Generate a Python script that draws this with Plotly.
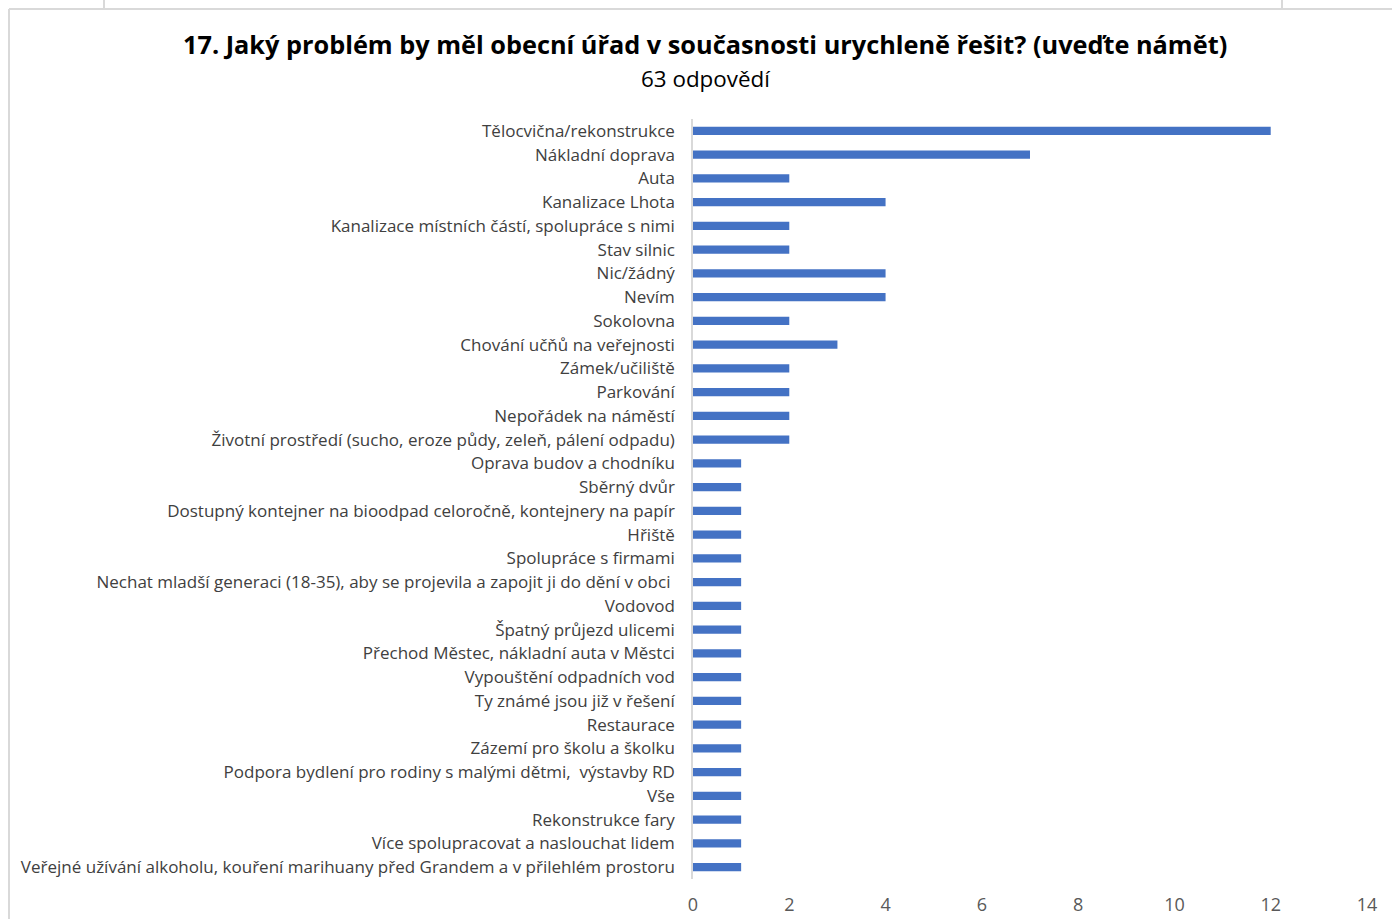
import plotly.graph_objects as go

W, H = 1392, 919

categories = [
    "Tělocvična/rekonstrukce",
    "Nákladní doprava",
    "Auta",
    "Kanalizace Lhota",
    "Kanalizace místních částí, spolupráce s nimi",
    "Stav silnic",
    "Nic/žádný",
    "Nevím",
    "Sokolovna",
    "Chování učňů na veřejnosti",
    "Zámek/učiliště",
    "Parkování",
    "Nepořádek na náměstí",
    "Životní prostředí (sucho, eroze půdy, zeleň, pálení odpadu)",
    "Oprava budov a chodníku",
    "Sběrný dvůr",
    "Dostupný kontejner na bioodpad celoročně, kontejnery na papír",
    "Hřiště",
    "Spolupráce s firmami",
    "Nechat mladší generaci (18-35), aby se projevila a zapojit ji do dění v obci ",
    "Vodovod",
    "Špatný průjezd ulicemi",
    "Přechod Městec, nákladní auta v Městci",
    "Vypouštění odpadních vod",
    "Ty známé jsou již v řešení",
    "Restaurace",
    "Zázemí pro školu a školku",
    "Podpora bydlení pro rodiny s malými dětmi,  výstavby RD",
    "Vše",
    "Rekonstrukce fary",
    "Více spolupracovat a naslouchat lidem",
    "Veřejné užívání alkoholu, kouření marihuany před Grandem a v přilehlém prostoru",
]
counts = [12, 7, 2, 4, 2, 2, 4, 4, 2, 3, 2, 2, 2, 2,
          1, 1, 1, 1, 1, 1, 1, 1, 1, 1, 1, 1, 1, 1, 1, 1, 1, 1]
x_ticks = [0, 2, 4, 6, 8, 10, 12, 14]

title = "17. Jaký problém by měl obecní úřad v současnosti urychleně řešit? (uveďte námět)"
subtitle = "63 odpovědí"

FONT = "Open Sans"
TICKFONT = "Liberation Sans Narrow, Open Sans"

fig = go.Figure()
fig.add_trace(go.Bar(
    x=counts, y=categories, orientation="h",
    marker=dict(color="#4472C4", line=dict(width=0)),
    width=0.34,
    hoverinfo="x+y",
))

# pixel helpers (margins are zero, so paper == canvas)
def px(x):
    return x / W

def py(y):
    return 1 - y / H

fig.update_layout(
    width=W, height=H,
    margin=dict(l=0, r=0, t=0, b=0),
    paper_bgcolor="white", plot_bgcolor="white",
    showlegend=False,
    font=dict(family=FONT, color="#404040"),
    xaxis=dict(
        domain=[px(693), px(1367)],
        range=[0, 14], tickvals=x_ticks,
        showgrid=False, zeroline=False, showline=False,
        ticks="", tickfont=dict(size=18, color="#595959", family=TICKFONT),
        ticklabelstandoff=13,
        automargin=False,
    ),
    yaxis=dict(
        domain=[py(879), py(119)],
        type="category", range=[len(categories) - 0.5, -0.5],
        showgrid=False, zeroline=False,
        showline=True, linecolor="#D9D9D9", linewidth=1.5,
        ticks="", tickfont=dict(size=17, color="#404040"),
        ticklabelstandoff=13,
        automargin=False,
    ),
    annotations=[
        dict(text="<b>" + title + "</b>", x=px(705), y=py(44), xref="paper", yref="paper",
             showarrow=False, xanchor="center", yanchor="middle",
             font=dict(size=25.3, color="#000000", family=FONT)),
        dict(text=subtitle, x=px(705), y=py(78), xref="paper", yref="paper",
             showarrow=False, xanchor="center", yanchor="middle",
             font=dict(size=22.4, color="#000000", family=FONT)),
    ],
    shapes=[
        dict(type="line", xref="paper", yref="paper", x0=px(9), x1=1, y0=py(9), y1=py(9),
             line=dict(color="#D9D9D9", width=2)),
        dict(type="line", xref="paper", yref="paper", x0=px(9), x1=px(9), y0=py(9), y1=0,
             line=dict(color="#D9D9D9", width=2)),
        dict(type="line", xref="paper", yref="paper", x0=px(104), x1=px(104), y0=1, y1=py(9),
             line=dict(color="#D9D9D9", width=2)),
        dict(type="line", xref="paper", yref="paper", x0=px(1282), x1=px(1282), y0=1, y1=py(9),
             line=dict(color="#D9D9D9", width=2)),
    ],
)

# drop the default page margin so the figure sits at the window's corner
fig.write_html("out.html", config={"displayModeBar": False},
               post_script="document.body.style.margin='0';")
